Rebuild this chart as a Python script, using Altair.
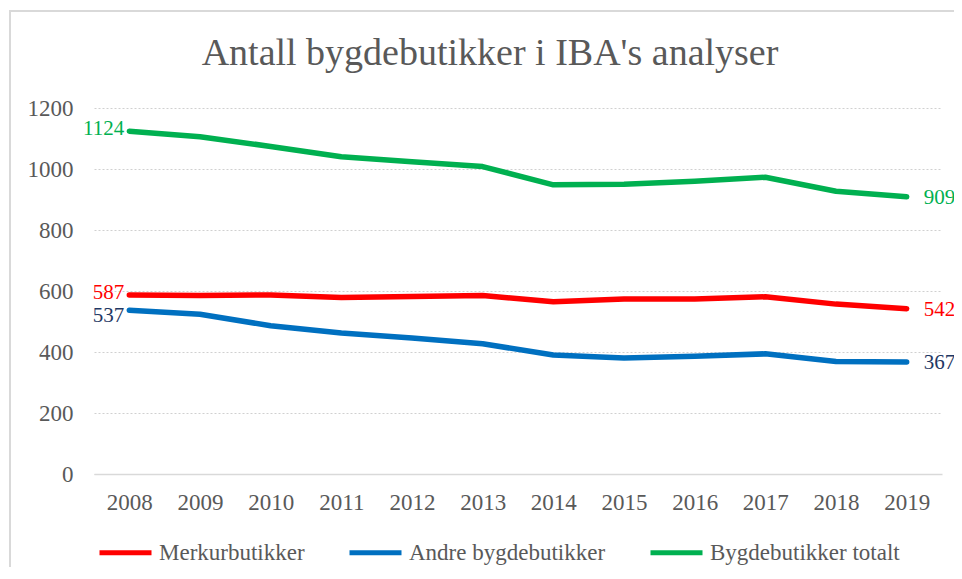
import altair as alt
import pandas as pd

years = [str(y) for y in range(2008, 2020)]
merkur = [587, 585, 587, 579, 582, 585, 565, 574, 574, 581, 557, 542]
andre = [537, 524, 486, 462, 446, 427, 390, 380, 386, 394, 369, 367]
totalt = [1124, 1106, 1074, 1040, 1024, 1008, 948, 950, 960, 973, 927, 909]
series = ["Merkurbutikker", "Andre bygdebutikker", "Bygdebutikker totalt"]
line_colors = ["#FF0000", "#0070C0", "#00B050"]
label_colors = ["#FF0000", "#1F3864", "#00B050"]
y_ticks = [0, 200, 400, 600, 800, 1000, 1200]

FONT = "Liberation Serif"
GREY = "#595959"

rows = []
for name, vals, lc in zip(series, [merkur, andre, totalt], label_colors):
    for i, (yr, v) in enumerate(zip(years, vals)):
        rows.append({"year": yr, "value": v, "series": name, "lc": lc,
                     "pos": "first" if i == 0 else ("last" if i == len(years) - 1 else "mid")})
df = pd.DataFrame(rows)

x_enc = alt.X("year:O", sort=years,
              scale=alt.Scale(type="point", padding=0.5),
              axis=alt.Axis(title=None, labelAngle=0, ticks=False, domain=True,
                            domainColor="#d9d9d9", domainWidth=1.5, grid=False,
                            labelFont=FONT, labelFontSize=23, labelColor=GREY,
                            labelPadding=17))
y_enc = alt.Y("value:Q", scale=alt.Scale(domain=[0, 1200], nice=False),
              axis=alt.Axis(title=None, values=y_ticks, ticks=False, domain=False, format="d",
                            grid=True, gridColor="#d0d0d0", gridDash=[2, 2], gridWidth=1,
                            labelFont=FONT, labelFontSize=23, labelColor=GREY,
                            labelPadding=21))

base = alt.Chart(df)

lines = base.mark_line(strokeWidth=5.5, strokeCap="round", strokeJoin="round").encode(
    x=x_enc, y=y_enc,
    color=alt.Color("series:N", sort=series,
                    scale=alt.Scale(domain=series, range=line_colors),
                    legend=alt.Legend(title=None, orient="none", direction="horizontal",
                                      legendX=3, legendY=416,
                                      symbolType="stroke", symbolStrokeWidth=5,
                                      symbolSize=2704, labelFont=FONT, labelFontSize=23,
                                      labelColor=GREY, labelOffset=5, columnPadding=34,
                                      labelLimit=400)),
    detail="series:N",
)

def end_labels(pos, names, align, dx, dy, size):
    cond = " || ".join(f"datum.series == '{n}'" for n in names)
    return base.transform_filter(f"datum.pos == '{pos}' && ({cond})").mark_text(
        align=align, baseline="middle", dx=dx, dy=dy, font=FONT, fontSize=size).encode(
        x=alt.X("year:O", sort=years), y="value:Q", text="value:Q",
        color=alt.Color("lc:N", scale=None))

left_a = end_labels("first", [series[0], series[2]], "right", -5, -2, 21)
left_b = end_labels("first", [series[1]], "right", -5, 6, 21)
right_l = end_labels("last", series, "left", 17, 1, 21)

frame = alt.Chart(pd.DataFrame({"a": [0]})).mark_rect(
    fillOpacity=0, stroke="#d9d9d9", strokeWidth=2
).encode(x=alt.value(-84), x2=alt.value(1000), y=alt.value(-97), y2=alt.value(600))

chart = alt.layer(frame, lines, left_a, left_b, right_l).properties(
    width=848, height=366,
    title=alt.TitleParams("Antall bygdebutikker i IBA's analyser", font=FONT, fontSize=38,
                          fontWeight="normal", color=GREY, anchor="middle", frame="group",
                          baseline="alphabetic", offset=-93, dx=-28),
    autosize=alt.AutoSizeParams(type="none"),
    padding={"left": 86, "top": 100, "right": 12, "bottom": 93},
).configure_view(stroke=None)

chart.save("out.html", embed_options={"renderer": "svg", "actions": False})
